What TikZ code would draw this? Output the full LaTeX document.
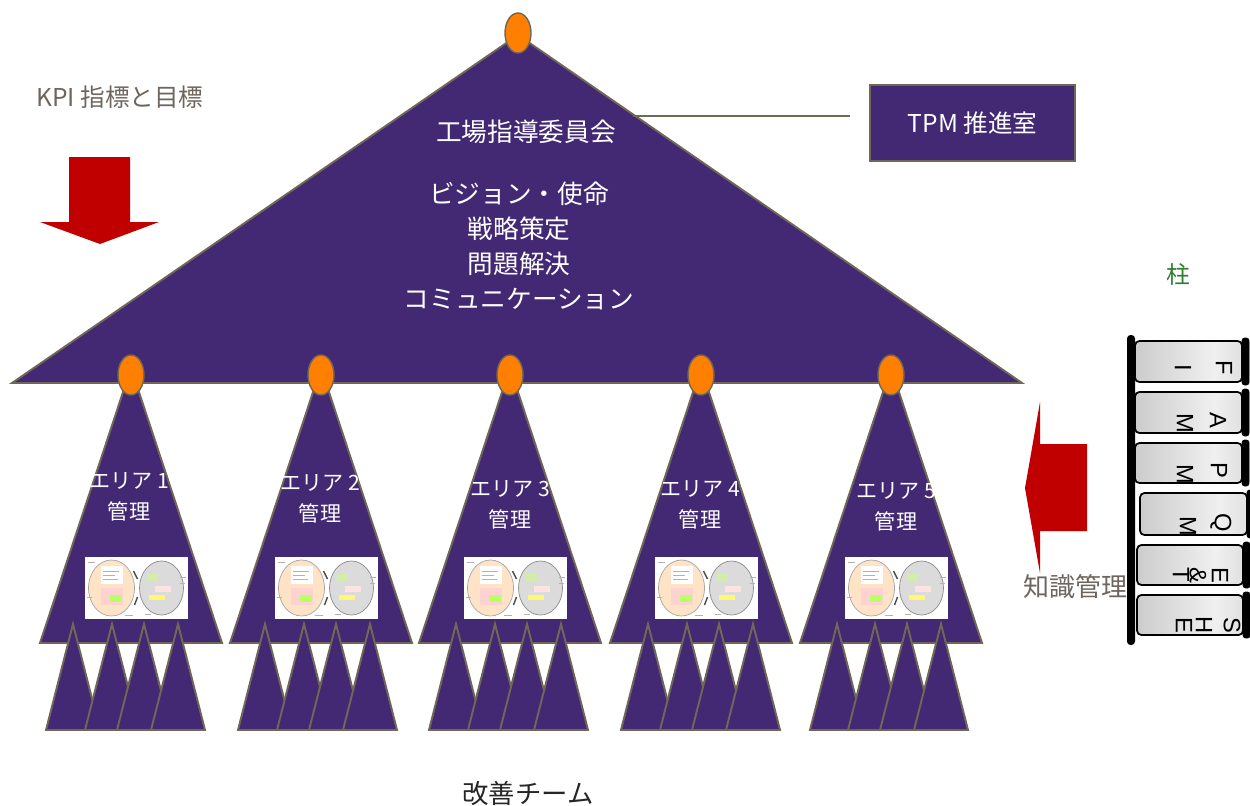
\documentclass[tikz,border=0pt]{standalone}
\usepackage{fontspec}
\setmainfont{Liberation Sans}
\newfontfamily\jp{Noto Sans CJK JP}
\usetikzlibrary{shapes.geometric}

\definecolor{tpmpurple}{HTML}{432874}
\definecolor{edgegray}{HTML}{6F6757}
\definecolor{dotorange}{HTML}{FF8000}
\definecolor{arrowred}{HTML}{C00000}
\definecolor{labelgray}{HTML}{6E665E}
\definecolor{pillargreen}{HTML}{2F7D32}

\pgfdeclarehorizontalshading{cylinder}{100bp}{color(0bp)=(black!34); color(25bp)=(black!20); color(62bp)=(black!6); color(88bp)=(black!18); color(100bp)=(black!38)}

% small PDCA thumbnail, 103 x 62 units
\newcommand{\pdcathumb}{%
  \fill[white] (0,0) rectangle (103,62);
  \draw[black!35, fill=orange!22] (27,31) ellipse [x radius=23, y radius=28];
  \draw[black!45, fill=black!14] (77,31) ellipse [x radius=22, y radius=27];
  \fill[white] (16,9) rectangle (38,27);
  \draw[black!30, line width=0.3pt] (18,14) -- (34,14) (18,18) -- (30,18) (18,22) -- (33,22);
  \fill[pink!70] (16,31) rectangle (38,48);
  \fill[green!45!yellow!60] (25,38) rectangle (37,45);
  \fill[yellow!50!green!35] (62,17) rectangle (73,24);
  \fill[pink!45] (70,29) rectangle (86,35);
  \fill[yellow!55] (64,38) rectangle (80,43);
  \draw[black!70, line width=0.8pt] (49,14) -- (53,22) (53,40) -- (50,48);
  \draw[black!30, line width=0.3pt] (3,5) -- (10,5) (2,40) -- (7,40) (95,20) -- (101,20) (95,26) -- (100,26) (40,58) -- (48,58) (60,57) -- (66,57);
}

\tikzset{
  tri/.style={fill=tpmpurple, draw=edgegray, line width=1.1pt, line join=miter},
  dot/.style={ellipse, fill=dotorange, draw=edgegray, line width=0.8pt,
    minimum width=0.52cm, minimum height=0.8cm, inner sep=0pt},
  whitetxt/.style={text=white, font=\jp, align=center, inner sep=0pt},
  graytxt/.style={text=labelgray, font=\jp\fontsize{14}{17}\selectfont, inner sep=0pt},
  arrowshape/.style={fill=arrowred, draw=none},
  pillarseg/.style={shading=cylinder, draw=black, line width=1pt, rounded corners=2.5pt},
  pillarcap/.style={fill=black, draw=black, rounded corners=1.5pt},
  pillarletter/.style={rotate=-90, text=black, font=\fontsize{13.5}{16}\selectfont, inner sep=0pt}
}

\begin{document}
\begin{tikzpicture}[x=0.02cm, y=-0.02cm]
\useasboundingbox (0,0) rectangle (1250,805);

% plant steering committee
\path[tri] (518,35) -- (1022,383) -- (12,383) -- cycle;

% area triangles with thumbnails and improvement teams
\foreach \cx/\tx/\ty/\n/\oa/\ob/\oc/\od in {131/129/484/1/-58/-19/13/47, 321/320/486/2/-56/-17/15/49, 510/510/492/3/-54/-15/17/51, 701/700/492/4/-53/-14/18/52, 891/896/494/5/-54/-16/16/50}{
  \path[tri] (\cx,368) -- (\cx+91,643) -- (\cx-91,643) -- cycle;
  \node[whitetxt, font=\jp\fontsize{12}{17.5}\selectfont] (area\n) at (\tx,\ty+13) {エリア \n\\管理};
  \begin{scope}[shift={(\cx-46.5,557)}]
    \pdcathumb
  \end{scope}
  \foreach \o in {\oa,\ob,\oc,\od}{
    \path[tri] (\cx+\o,624) -- (\cx+\o+27,730) -- (\cx+\o-27,730) -- cycle;
  }
  \node[dot] (dot\n) at (\cx,375) {};
}

\node[dot] (topdot) at (518,33) {};

% committee texts
\node[whitetxt, font=\jp\fontsize{14.6}{20}\selectfont] (committee) at (526,132) {工場指導委員会};
\node[whitetxt, font=\jp\fontsize{14.6}{20}\selectfont] (mission) at (519,246) {ビジョン・使命\\戦略策定\\問題解決\\コミュニケーション};

% TPM office
\node[draw=edgegray, fill=tpmpurple, line width=1.2pt, minimum width=4.1cm, minimum height=1.52cm,
  text=white, font=\jp\fontsize{14}{17}\selectfont] (tpm) at (972.5,123) {TPM 推進室};
\coordinate (linestart) at (633,116);
\coordinate (lineend) at (850,116);
\draw[edgegray, line width=1pt] (linestart) -- (lineend);

% KPI arrow
\node[graytxt] (kpi) at (120,97) {KPI 指標と目標};
\path[arrowshape] (69,157) -- (130,157) -- (130,222) -- (159,222) -- (100,244) -- (40,222) -- (69,222) -- cycle;

% knowledge management arrow
\path[arrowshape] (1087,444) -- (1040,444) -- (1040,402) -- (1025,488) -- (1040,573) -- (1040,531) -- (1087,531) -- cycle;
\node[graytxt, font=\jp\fontsize{14.8}{17}\selectfont] (knowledge) at (1075,587) {知識管理};

% pillars
\node[text=pillargreen, font=\jp\fontsize{13.5}{16}\selectfont, inner sep=0pt] (pillarlabel) at (1178,274) {柱};
\fill[black, rounded corners=2pt] (1127,335) rectangle (1135,645);
\foreach \t/\b/\l/\r in {341/382/1135/1242, 392/433/1135/1242, 443/483/1135/1242, 493/535/1140/1247, 545/585/1137/1243, 595/635/1137/1243}{
  \path[pillarseg] (\l,\t) rectangle (\r,\b);
  \path[pillarcap] (\r,\t-3) rectangle (\r+7,\b+3);
}
\node[pillarletter] (pF) at (1224,368) {F};
\node[pillarletter] (pI) at (1183,368) {I};
\node[pillarletter] (pA) at (1218,420) {A};
\node[pillarletter] (pM1) at (1185,423) {M};
\node[pillarletter] (pP) at (1219,470) {P};
\node[pillarletter] (pM2) at (1185,474) {M};
\node[pillarletter] (pQ) at (1221,523) {Q};
\node[pillarletter] (pM3) at (1188,526) {M};
\node[pillarletter] (pE1) at (1220,575) {E};
\node[pillarletter] (pAmp) at (1198,575) {\&};
\node[pillarletter] (pT) at (1181,575) {T};
\node[pillarletter] (pS) at (1232,625) {S};
\node[pillarletter] (pH) at (1204,625) {H};
\node[pillarletter] (pE2) at (1184,625) {E};

% improvement teams label
\node[text=black!85, font=\jp\fontsize{15}{18}\selectfont, inner sep=0pt] (teams) at (528,793) {改善チーム};
\end{tikzpicture}
\end{document}
